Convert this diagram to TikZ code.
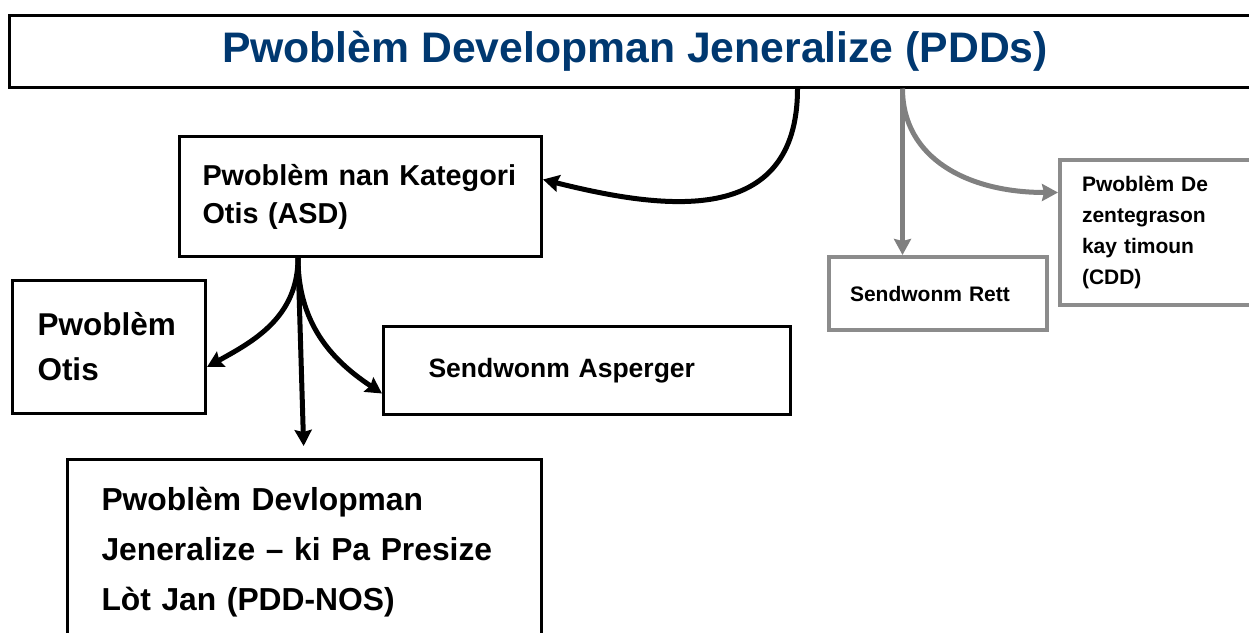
\documentclass[tikz,border=0pt]{standalone}
\usepackage{fontspec}
\setmainfont{Liberation Sans}
\usetikzlibrary{arrows.meta}
\definecolor{titleblue}{RGB}{0,56,112}
\definecolor{boxgrey}{RGB}{140,140,140}
\definecolor{arrowgrey}{RGB}{128,128,128}

\begin{document}
\begin{tikzpicture}[x=1pt,y=-1pt]
\tikzstyle{box} = [draw,shape=rectangle,line width=3pt,anchor=north west,align=left,inner ysep=0pt]
\tikzstyle{greybox} = [box,draw=boxgrey,line width=4pt]
\tikzstyle{arrow} = [line width=5pt,-{Stealth[length=16pt,width=17pt,inset=2pt]}]
\tikzstyle{greyarrow} = [arrow,draw=arrowgrey]

\useasboundingbox (0,0) rectangle (1249,632);
\clip (0,0) rectangle (1249,632);

\node[box,anchor=center,minimum width=1252pt,minimum height=72pt,text=titleblue,font=\fontsize{42.7}{50}\selectfont\bfseries] (pdd) at (635,51) {Pwoblèm Developman Jeneralize (PDDs)};

\node[box,minimum height=120pt,inner xsep=23pt,text width=316pt,font=\fontsize{28.8}{38}\selectfont\bfseries] (asd) at (178,135) {Pwoblèm nan Kategori\\Otis (ASD)};
\node[box,minimum height=133pt,inner xsep=25pt,text width=143pt,font=\fontsize{31.5}{45}\selectfont\bfseries] (otis) at (11,279) {Pwoblèm\\Otis};
\node[box,minimum height=88pt,inner xsep=45pt,text width=317pt,font=\fontsize{26.5}{32}\selectfont\bfseries] (asp) at (382,325) {Sendwonm Asperger};
\node[box,minimum height=186pt,inner xsep=34pt,text width=406pt,font=\fontsize{31.8}{50}\selectfont\bfseries] (nos) at (66,458) {Pwoblèm Devlopman\\Jeneralize -- ki Pa Presize\\Lòt Jan (PDD-NOS)};

\node[greybox,minimum height=73pt,inner xsep=21pt,text width=176pt,font=\fontsize{21}{26}\selectfont\bfseries] (rett) at (827,255) {Sendwonm Rett};
\node[greybox,minimum height=145pt,inner xsep=22pt,text width=180pt,font=\fontsize{21}{31}\selectfont\bfseries] (cdd) at (1058,158) {Pwoblèm De\\zentegrason\\kay timoun\\(CDD)};

\coordinate (asdout) at ([xshift=120pt]asd.south west);
\coordinate (pddout) at ([xshift=895pt]pdd.south west);

% black connectors
\draw[arrow] ([xshift=790pt]pdd.south west) .. controls +(0,140) and +(120,30) .. ([yshift=17pt]asd.east);
\draw[arrow] (asdout) .. controls +(0,60) and +(45,-25) .. ([yshift=-20pt]otis.east);
\draw[arrow,shorten >=12pt] (asdout) -- ([xshift=238pt]nos.north west);
\draw[arrow] (asdout) .. controls +(0,70) and +(-45,-30) .. ([yshift=-23pt]asp.west);

% grey connectors
\draw[greyarrow] (pddout) -- (pddout |- rett.north);
\draw[greyarrow] (pddout) .. controls +(0,70) and +(-90,0) .. ([yshift=40pt]cdd.west);
\end{tikzpicture}
\end{document}
